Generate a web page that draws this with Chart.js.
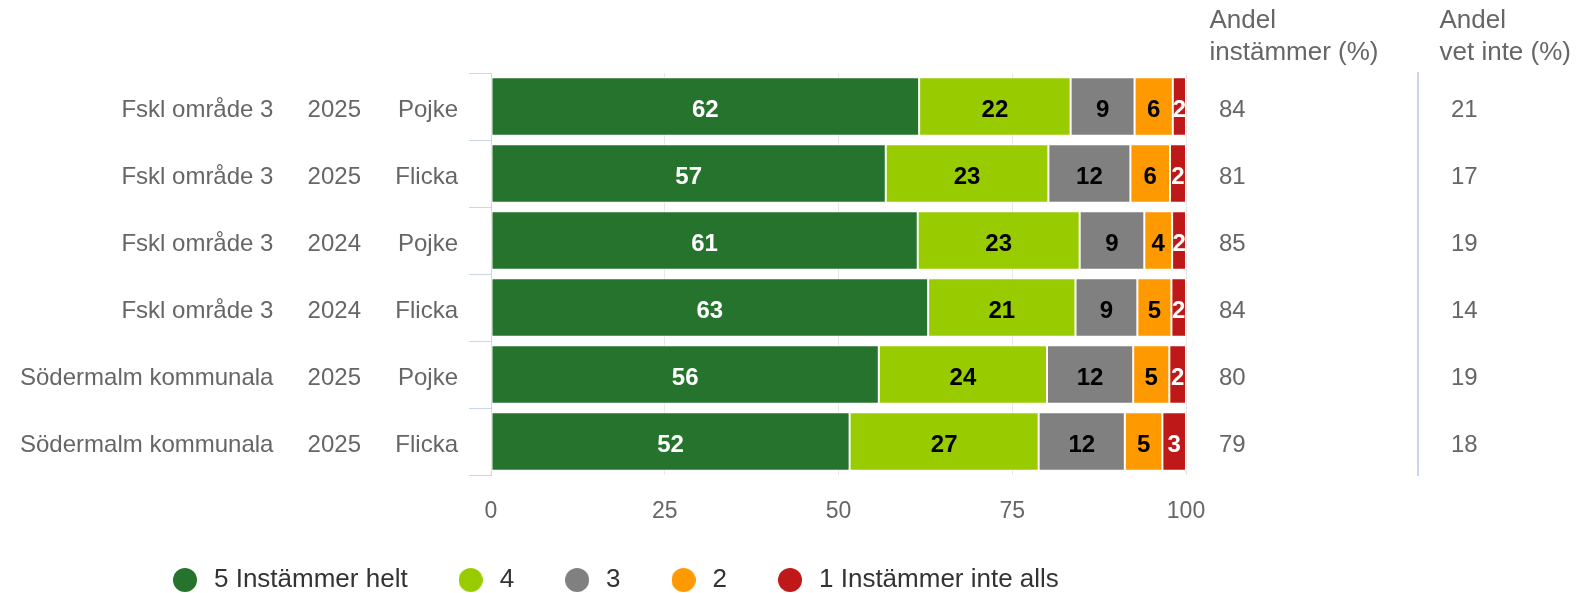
<!DOCTYPE html>
<html>
<head>
<meta charset="utf-8">
<script src="https://cdn.jsdelivr.net/npm/chart.js@4/dist/chart.umd.min.js"></script>
<style>
html,body{margin:0;padding:0;background:#fff;overflow:hidden;}
canvas{display:block;}
</style>
</head>
<body>
<canvas id="c" width="1583" height="593"></canvas>
<script>
// ---- data ----
const regions = ['Fskl område 3','Fskl område 3','Fskl område 3','Fskl område 3','Södermalm kommunala','Södermalm kommunala'];
const years = ['2025','2025','2024','2024','2025','2025'];
const genders = ['Pojke','Flicka','Pojke','Flicka','Pojke','Flicka'];

const seriesNames = ['5 Instämmer helt','4','3','2','1 Instämmer inte alls'];
const s5 = [61.6, 56.8, 61.4, 62.9, 55.8, 51.6];
const s4 = [21.8, 23.4, 23.3, 21.2, 24.2, 27.2];
const s3 = [9.2, 11.8, 9.3, 8.9, 12.4, 12.4];
const s2 = [5.5, 5.7, 4.0, 4.9, 5.2, 5.4];
const s1 = [1.9, 2.3, 2.0, 2.1, 2.4, 3.4];

const andelInstammer = ['84','81','85','84','80','79'];
const andelVetInte = ['21','17','19','14','19','18'];
const header1 = ['Andel','instämmer (%)'];
const header2 = ['Andel','vet inte (%)'];
const xTicks = [0, 25, 50, 75, 100];

// ---- styles ----
const FONT = "'Liberation Sans', Arial, Helvetica, sans-serif";
const seriesValues = [s5, s4, s3, s2, s1];
const seriesColors = ['#26732e', '#99cc00', '#808080', '#ff9900', '#bf1818'];
const labelColors = ['#ffffff', '#000000', '#000000', '#000000', '#ffffff'];

Chart.defaults.font.family = FONT;
Chart.defaults.color = '#666666';

function dot(color) {
  const c = document.createElement('canvas');
  c.width = 24; c.height = 24;
  const g = c.getContext('2d');
  g.fillStyle = color;
  g.beginPath(); g.arc(12, 12, 12, 0, Math.PI * 2); g.fill();
  return c;
}
const legendDots = seriesColors.map(dot);

const barLabels = {
  id: 'barLabels',
  afterDatasetsDraw(chart) {
    const ctx = chart.ctx;
    ctx.save();
    ctx.font = 'bold 24px ' + FONT;
    ctx.textAlign = 'center';
    ctx.textBaseline = 'middle';
    chart.data.datasets.forEach((ds, i) => {
      const meta = chart.getDatasetMeta(i);
      if (meta.hidden) return;
      meta.data.forEach((el, j) => {
        ctx.fillStyle = labelColors[i];
        ctx.fillText(String(Math.round(ds.data[j])), (el.x + el.base) / 2, el.y + 4);
      });
    });
    ctx.restore();
  }
};

const headers = {
  id: 'headers',
  afterDraw(chart) {
    const ctx = chart.ctx;
    const r1 = chart.scales.yR1, r2 = chart.scales.yR2;
    ctx.save();
    ctx.font = '26px ' + FONT;
    ctx.fillStyle = '#666666';
    ctx.textAlign = 'left';
    ctx.textBaseline = 'alphabetic';
    header1.forEach((t, k) => ctx.fillText(t, r1.left + 23.5, 27.5 + k * 32.5));
    header2.forEach((t, k) => ctx.fillText(t, r2.left + 21.5, 27.5 + k * 32.5));
    ctx.restore();
  }
};

new Chart(document.getElementById('c'), {
  type: 'bar',
  data: {
    labels: regions.map((r, i) => r + ' ' + years[i] + ' ' + genders[i]),
    datasets: seriesNames.map((n, i) => ({
      label: n,
      data: seriesValues[i],
      backgroundColor: seriesColors[i],
      borderColor: '#ffffff',
      borderWidth: 1,
      borderSkipped: false,
      barPercentage: 0.875,
      categoryPercentage: 1
    }))
  },
  options: {
    indexAxis: 'y',
    responsive: false,
    animation: false,
    layout: { padding: { left: 122, right: 0, top: 73, bottom: -10 } },
    scales: {
      x: {
        stacked: true,
        min: 0, max: 100,
        afterBuildTicks: s => { s.ticks = xTicks.map(v => ({ value: v })); },
        ticks: { font: { size: 23 }, color: '#666666', padding: 23 },
        grid: { color: '#e6e6e6', drawTicks: false },
        border: { display: false },
        afterFit: s => { s.height = 45; }
      },
      y: {
        stacked: true,
        position: 'left',
        labels: genders,
        weight: 0,
        ticks: { font: { size: 24 }, color: '#666666', padding: 11, labelOffset: 4 },
        grid: { offset: true, drawOnChartArea: false, tickLength: 22, color: '#ccd6eb' },
        border: { display: true, color: '#ccd6eb', width: 1 },
        afterFit: s => { s.width = 126; }
      },
      yYear: {
        type: 'category',
        position: 'left',
        labels: years,
        offset: true,
        weight: 1,
        ticks: { font: { size: 24 }, color: '#666666', padding: 4, labelOffset: 4 },
        grid: { display: false, drawTicks: false },
        border: { display: false },
        afterFit: s => { s.width = 85; }
      },
      yRegion: {
        type: 'category',
        position: 'left',
        labels: regions,
        offset: true,
        weight: 2,
        ticks: { font: { size: 24 }, color: '#666666', mirror: true, crossAlign: 'far', padding: -260, labelOffset: 4 },
        grid: { display: false, drawTicks: false },
        border: { display: false },
        afterFit: s => { s.width = 158; }
      },
      yR1: {
        type: 'category',
        position: 'right',
        labels: andelInstammer,
        offset: true,
        weight: 0,
        ticks: { font: { size: 24 }, color: '#666666', padding: 33, labelOffset: 4 },
        grid: { display: false, drawTicks: false },
        border: { display: false },
        afterFit: s => { s.width = 232; }
      },
      yR2: {
        type: 'category',
        position: 'right',
        labels: andelVetInte,
        offset: true,
        weight: 1,
        ticks: { font: { size: 24 }, color: '#666666', padding: 33, labelOffset: 4 },
        grid: { display: true, drawOnChartArea: false, drawTicks: false, color: 'rgba(0,0,0,0)' },
        border: { display: true, color: '#ccd6eb', width: 2 },
        afterFit: s => { s.width = 165; }
      }
    },
    plugins: {
      legend: {
        position: 'bottom',
        align: 'start',
        labels: {
          font: { size: 26 },
          color: '#333333',
          usePointStyle: true,
          pointStyleWidth: 32,
          boxHeight: 24,
          padding: 47,
          generateLabels(chart) {
            const items = Chart.defaults.plugins.legend.labels.generateLabels(chart);
            items.forEach(it => { it.pointStyle = legendDots[it.datasetIndex]; });
            return items;
          }
        }
      },
      tooltip: { enabled: true }
    }
  },
  plugins: [barLabels, headers]
});
</script>
</body>
</html>
